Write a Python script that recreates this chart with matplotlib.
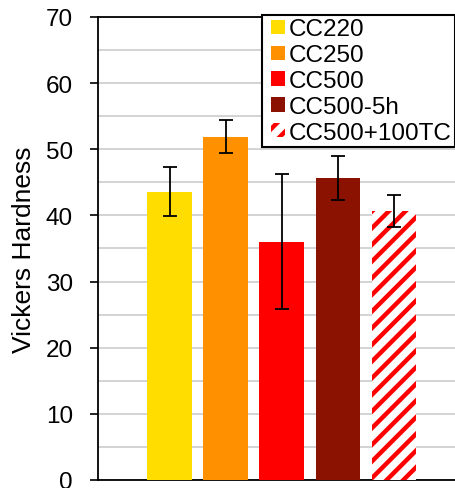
import numpy as np
import matplotlib.pyplot as plt
from matplotlib.patches import Rectangle
from matplotlib.container import BarContainer
from matplotlib.legend_handler import HandlerPatch, update_from_first_child

plt.rcParams['font.family'] = ['Liberation Sans', 'DejaVu Sans']
plt.rcParams['hatch.linewidth'] = 3.2

labels = ["CC220", "CC250", "CC500", "CC500-5h", "CC500+100TC"]
hardness = [43.6, 51.9, 36.0, 45.7, 40.7]
err = [3.7, 2.5, 10.2, 3.3, 2.45]
colors = ["#FFDD00", "#FF9100", "#FF0000", "#8B1200", "white"]
yticks = [0, 10, 20, 30, 40, 50, 60, 70]


def square_patch(legend, orig_handle, xdescent, ydescent, width, height, fontsize):
    # small square at the right end of the handle box
    s = height
    return Rectangle((width - s - xdescent, -ydescent), s, s)


fig = plt.figure(figsize=(4.56, 4.89), dpi=100)
ax = fig.add_axes([0.215, 0.0164, 0.785, 0.9468])

x = np.arange(len(labels))
for i in range(len(labels)):
    if i == 4:
        ax.bar(x[i], hardness[i], 0.8, color="white", edgecolor="red",
               hatch="//", linewidth=0, label=labels[i], zorder=3)
    else:
        ax.bar(x[i], hardness[i], 0.8, color=colors[i], linewidth=0,
               label=labels[i], zorder=3)
ax.errorbar(x, hardness, yerr=err, fmt="none", ecolor="black",
            elinewidth=1.3, capsize=5, capthick=1.3, zorder=4)

ax.set_xlim(-1.278, 5.105)
ax.set_ylim(0, 70)
ax.set_yticks(yticks)
ax.set_yticks(np.arange(5, 70, 10), minor=True)
ax.tick_params(axis="y", which="major", labelsize=17.5, length=6, width=1.2, pad=12)
ax.tick_params(axis="y", which="minor", length=0)
ax.set_xticks([])
ax.grid(axis="y", which="both", color="#D0D0D0", linewidth=1.3, zorder=0)
ax.set_axisbelow(True)
ax.set_ylabel("Vickers Hardness", fontsize=19)
ax.yaxis.set_label_coords(-0.174, 0.5)

ax.spines["right"].set_visible(False)
for s in ["left", "bottom", "top"]:
    ax.spines[s].set_linewidth(1.3)
    ax.spines[s].set_color("black")

hm = {BarContainer: HandlerPatch(patch_func=square_patch,
                                 update_func=update_from_first_child)}
leg = ax.legend(loc="upper right", bbox_to_anchor=(455 / 456, 1 - 16 / 489),
                bbox_transform=fig.transFigure, fontsize=17.5, frameon=True,
                fancybox=False, framealpha=1, edgecolor="black",
                handlelength=0.8, handleheight=0.52, handletextpad=0.15,
                labelspacing=0.16, borderpad=0.14, borderaxespad=0,
                handler_map=hm)
leg.get_frame().set_linewidth(1.5)

fig.savefig("out.png", dpi=100)
